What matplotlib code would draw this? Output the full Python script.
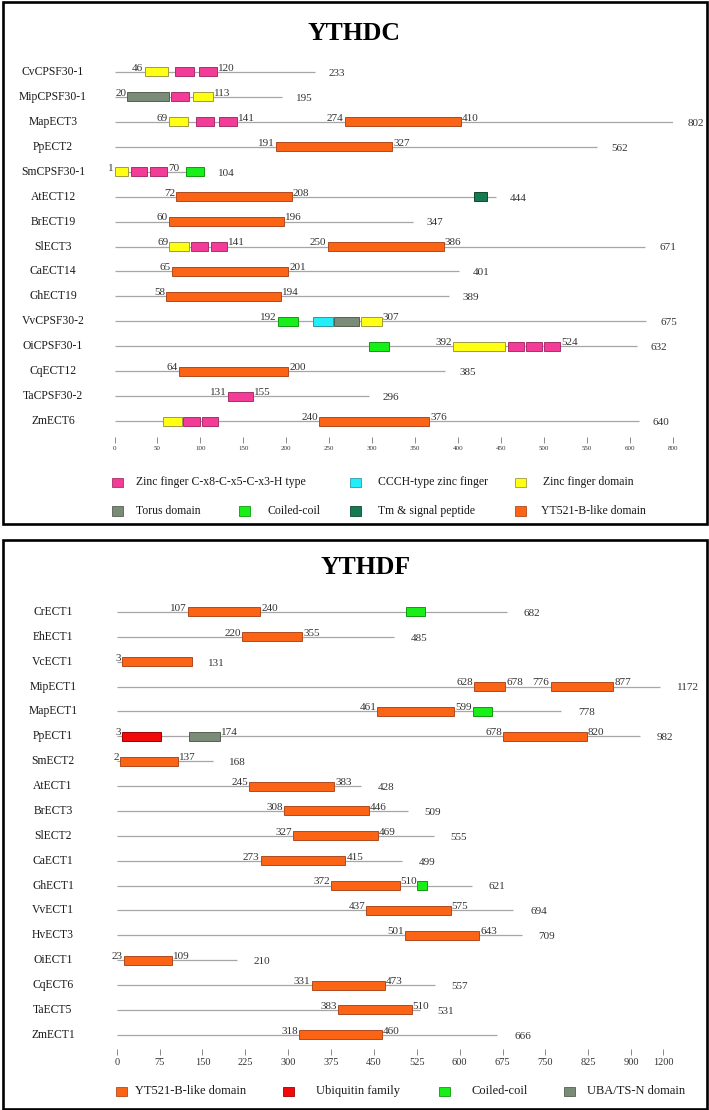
import matplotlib
matplotlib.use("Agg")
import matplotlib.pyplot as plt
import numpy as np
from matplotlib import transforms
from matplotlib.patches import Rectangle

plt.rcParams["font.family"] = ["Liberation Serif", "DejaVu Serif"]

# ---- YTHDC panel data ----
dc_names = ["CvCPSF30-1", "MipCPSF30-1", "MapECT3", "PpECT2", "SmCPSF30-1",
            "AtECT12", "BrECT19", "SlECT3", "CaECT14", "GhECT19",
            "VvCPSF30-2", "OiCPSF30-1", "CqECT12", "TaCPSF30-2", "ZmECT6"]
dc_lengths = [233, 195, 802, 562, 104, 444, 347, 671, 401, 389, 675, 632, 385, 296, 640]
dc_domains = [
    [("zfd", 35, 62), ("zfc", 70, 92), ("zfc", 98, 119)],
    [("torus", 15, 63), ("zfc", 66, 87), ("zfd", 91, 115)],
    [("zfd", 63, 86), ("zfc", 95, 116), ("zfc", 122, 143), ("yth", 268, 403)],
    [("yth", 188, 323)],
    [("zfd", 0, 16), ("zfc", 19, 38), ("zfc", 41, 61), ("cc", 83, 104)],
    [("yth", 72, 206), ("tm", 418, 434)],
    [("yth", 63, 197)],
    [("zfd", 64, 87), ("zfc", 89, 109), ("zfc", 112, 131), ("yth", 248, 383)],
    [("yth", 67, 202)],
    [("yth", 60, 194)],
    [("cc", 190, 214), ("ccch", 231, 254), ("torus", 256, 285), ("zfd", 287, 311)],
    [("cc", 296, 319), ("zfd", 394, 455), ("zfc", 458, 477), ("zfc", 479, 498), ("zfc", 500, 519)],
    [("yth", 75, 202)],
    [("zfc", 132, 161)],
    [("zfd", 56, 78), ("zfc", 80, 99), ("zfc", 102, 120), ("yth", 238, 366)],
]
# (text, domain index, side)
dc_marks = [
    [("46", 0, "L"), ("120", 2, "R")],
    [("20", 0, "L"), ("113", 2, "R")],
    [("69", 0, "L"), ("141", 2, "R"), ("274", 3, "L"), ("410", 3, "R")],
    [("191", 0, "L"), ("327", 0, "R")],
    [("1", 0, "L"), ("70", 2, "R")],
    [("72", 0, "L"), ("208", 0, "R")],
    [("60", 0, "L"), ("196", 0, "R")],
    [("69", 0, "L"), ("141", 2, "R"), ("250", 3, "L"), ("386", 3, "R")],
    [("65", 0, "L"), ("201", 0, "R")],
    [("58", 0, "L"), ("194", 0, "R")],
    [("192", 0, "L"), ("307", 3, "R")],
    [("392", 1, "L"), ("524", 4, "R")],
    [("64", 0, "L"), ("200", 0, "R")],
    [("131", 0, "L"), ("155", 0, "R")],
    [("240", 3, "L"), ("376", 3, "R")],
]
dc_ticks = [0, 50, 100, 150, 200, 250, 300, 350, 400, 450, 500, 550, 600, 800]

# ---- YTHDF panel data ----
df_names = ["CrECT1", "EhECT1", "VcECT1", "MipECT1", "MapECT1", "PpECT1", "SmECT2",
            "AtECT1", "BrECT3", "SlECT2", "CaECT1", "GhECT1", "VvECT1", "HvECT3",
            "OiECT1", "CqECT6", "TaECT5", "ZmECT1"]
df_lengths = [682, 485, 131, 1172, 778, 982, 168, 428, 509, 555, 499, 621, 694, 709,
              210, 557, 531, 666]
df_domains = [
    [("yth", 125, 251), ("cc", 506, 540)],
    [("yth", 219, 325)],
    [("yth", 9, 131)],
    [("yth", 625, 680), ("yth", 759, 869)],
    [("yth", 456, 590), ("cc", 623, 656)],
    [("ubq", 10, 78), ("uba", 127, 180), ("yth", 676, 822)],
    [("yth", 6, 107)],
    [("yth", 232, 380)],
    [("yth", 293, 441)],
    [("yth", 309, 457)],
    [("yth", 252, 400)],
    [("yth", 375, 495), ("cc", 525, 543)],
    [("yth", 437, 584)],
    [("yth", 504, 634)],
    [("yth", 13, 97)],
    [("yth", 341, 469)],
    [("yth", 388, 516)],
    [("yth", 319, 464)],
]
df_marks = [
    [("107", 0, "L"), ("240", 0, "R")],
    [("220", 0, "L"), ("355", 0, "R")],
    [("3", 0, "L")],
    [("628", 0, "L"), ("678", 0, "R"), ("776", 1, "L"), ("877", 1, "R")],
    [("461", 0, "L"), ("599", 0, "R")],
    [("3", 0, "L"), ("174", 1, "R"), ("678", 2, "L"), ("820", 2, "R")],
    [("2", 0, "L"), ("137", 0, "R")],
    [("245", 0, "L"), ("383", 0, "R")],
    [("308", 0, "L"), ("446", 0, "R")],
    [("327", 0, "L"), ("469", 0, "R")],
    [("273", 0, "L"), ("415", 0, "R")],
    [("372", 0, "L"), ("510", 0, "R")],
    [("437", 0, "L"), ("575", 0, "R")],
    [("501", 0, "L"), ("643", 0, "R")],
    [("23", 0, "L"), ("109", 0, "R")],
    [("331", 0, "L"), ("473", 0, "R")],
    [("383", 0, "L"), ("510", 0, "R")],
    [("318", 0, "L"), ("460", 0, "R")],
]
df_ticks = [0, 75, 150, 225, 300, 375, 450, 525, 600, 675, 750, 825, 900, 1200]

# face / edge colours per domain type
COLORS = {
    "zfc": ("#f23c98", "#a8306a"),
    "ccch": ("#22eefa", "#2a9aa8"),
    "zfd": ("#ffff14", "#a09a40"),
    "torus": ("#7a8c78", "#55604f"),
    "uba": ("#7a8c78", "#55604f"),
    "cc": ("#18ee18", "#119a11"),
    "tm": ("#157a50", "#0c4a30"),
    "yth": ("#fb6414", "#b04a20"),
    "ubq": ("#f00a0a", "#a00000"),
}

dc_legend = [("zfc", "Zinc finger C-x8-C-x5-C-x3-H type"), ("ccch", "CCCH-type zinc finger"),
             ("zfd", "Zinc finger domain"), ("torus", "Torus domain"), ("cc", "Coiled-coil"),
             ("tm", "Tm & signal peptide"), ("yth", "YT521-B-like domain")]
df_legend = [("yth", "YT521-B-like domain"), ("ubq", "Ubiquitin family"),
             ("cc", "Coiled-coil"), ("uba", "UBA/TS-N domain")]

W, H = 709, 1110
fig = plt.figure(figsize=(W / 100, H / 100), dpi=100)
fig.patch.set_facecolor("white")


def px_axes(left, top, right, bottom):
    return fig.add_axes([left / W, 1 - bottom / H, (right - left) / W, (bottom - top) / H])


def broken_scale(brk, k):
    # linear up to brk, compressed by k beyond it (axis break)
    def fwd(x):
        x = np.asarray(x, dtype=float)
        return np.where(x <= brk, x, brk + (x - brk) / k)

    def inv(y):
        y = np.asarray(y, dtype=float)
        return np.where(y <= brk, y, brk + (y - brk) * k)

    return fwd, inv


def draw_panel(ax, names, lengths, domains, marks, ticks, brk, k, span, ylim,
               tick_fs, len_gap):
    fwd, inv = broken_scale(brk, k)
    ax.set_xscale("function", functions=(fwd, inv))
    ax.set_xlim(0, float(inv(span)))
    ax.set_ylim(*ylim)
    for s in ax.spines.values():
        s.set_visible(False)
    ax.set_yticks([])
    ax.set_xticks(ticks)
    ax.set_xticklabels([str(t) for t in ticks])
    ax.tick_params(axis="x", direction="in", length=4.5, width=0.6, color="#777777",
                   labelsize=tick_fs, pad=2, labelcolor="#333333")
    ax.patch.set_alpha(0)

    name_tr = transforms.blended_transform_factory(fig.transFigure, ax.transData)
    h = 0.36
    for i, name in enumerate(names):
        ax.text(53 / W, i, name, transform=name_tr, ha="center", va="center",
                fontsize=8.4, color="#1a1a1a")
        ax.hlines(i, 0, lengths[i], color="#a6a6a6", lw=0.9, zorder=1)
        for kind, start, end in domains[i]:
            fc, ec = COLORS[kind]
            ax.barh(i, end - start, left=start, height=h, color=fc,
                    edgecolor=ec, linewidth=0.7, zorder=2)
        for text, di, side in marks[i]:
            _, start, end = domains[i][di]
            if side == "L":
                ax.annotate(text, (start, i), xytext=(-0.8, 0.8), textcoords="offset points",
                            ha="right", va="baseline", fontsize=8, color="#333333")
            else:
                ax.annotate(text, (end, i), xytext=(0.8, 0.8), textcoords="offset points",
                            ha="left", va="baseline", fontsize=8, color="#333333")
        ax.annotate(str(lengths[i]), (lengths[i], i), xytext=(len_gap, -1),
                    textcoords="offset points", ha="left", va="center",
                    fontsize=8, color="#333333")


def legend_item(kind, label, xc, y, xt, fs):
    fc, ec = COLORS[kind]
    w, hh = 11, 9
    fig.add_artist(Rectangle(((xc - w / 2) / W, 1 - (y + hh / 2) / H), w / W, hh / H,
                             transform=fig.transFigure, facecolor=fc, edgecolor=ec, lw=0.6))
    fig.text(xt / W, 1 - y / H, label, ha="left", va="center", fontsize=fs, color="#1a1a1a")


# panel frames
for top, bottom in [(2.5, 524.5), (539.5, 1108.5)]:
    fig.add_artist(Rectangle((2.5 / W, 1 - bottom / H), 704 / W, (bottom - top) / H,
                             transform=fig.transFigure, fill=False, edgecolor="black", lw=1.9))

fig.text(354 / W, 1 - 34 / H, "YTHDC", ha="center", va="center", fontsize=18.5,
         fontweight="bold")
fig.text(366 / W, 1 - 568 / H, "YTHDF", ha="center", va="center", fontsize=18.5,
         fontweight="bold")

ax1 = px_axes(114.5, 60, 673, 443)
draw_panel(ax1, dc_names, dc_lengths, dc_domains, dc_marks, dc_ticks, 600, 4, 650,
           (14.88, -0.48), 5, 10)

ax2 = px_axes(116.7, 600, 674, 1055)
draw_panel(ax2, df_names, df_lengths, df_domains, df_marks, df_ticks, 900, 5.3, 975,
           (17.81, -0.48), 7.5, 12)

# legends
dc_leg_pos = [(117, 482, 136), (355, 482, 378), (520, 482, 543),
              (117, 511, 136), (245, 511, 267), (355, 511, 378), (520, 511, 541)]
for (kind, label), (xc, y, xt) in zip(dc_legend, dc_leg_pos):
    legend_item(kind, label, xc, y, xt, 8.5)

df_leg_pos = [(121, 1091, 135), (288, 1091, 316), (444, 1091, 472), (569, 1091, 587)]
for (kind, label), (xc, y, xt) in zip(df_legend, df_leg_pos):
    legend_item(kind, label, xc, y, xt, 9)

fig.savefig("out.png", dpi=100)
